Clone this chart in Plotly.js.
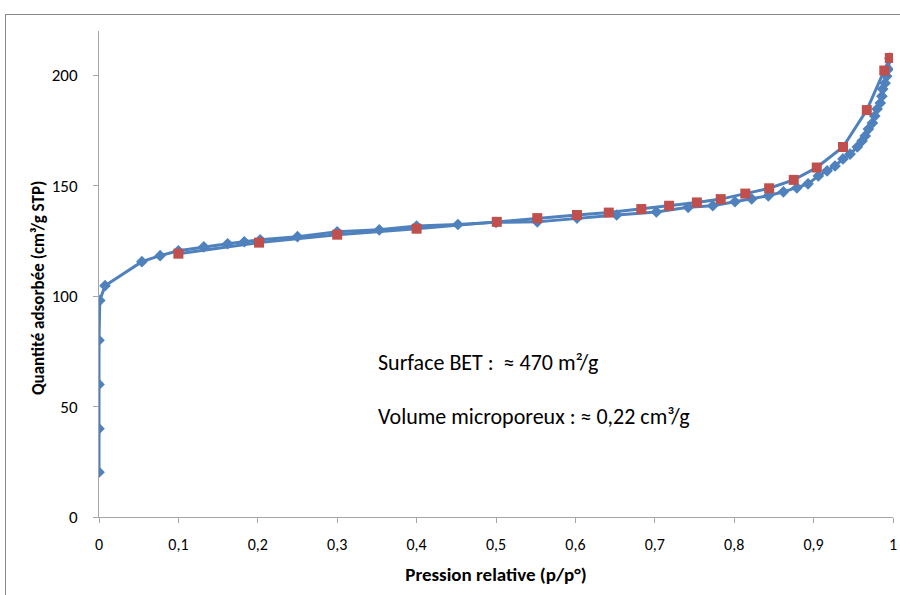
<!DOCTYPE html>
<html>
<head>
<meta charset="utf-8">
<script src="https://cdn.plot.ly/plotly-3.0.1.min.js"></script>
<style>
  html, body { margin: 0; padding: 0; background: #fff; }
  #wrap { position: relative; width: 900px; height: 595px; overflow: hidden; }
  #chart { width: 900px; height: 595px; }
  #frame { position: absolute; left: 5px; top: 14px; width: 1000px; height: 1000px;
           border-top: 1px solid #8a8a8a; border-left: 1px solid #8a8a8a; pointer-events: none; }
</style>
</head>
<body>
<div id="wrap">
  <div id="chart"></div>
  <div id="frame"></div>
</div>
<script>
// Adsorption branch (blue diamonds)
const adsP = [0, 0, 0, 0, 0.001, 0.0076, 0.054, 0.077, 0.10, 0.132, 0.162, 0.183, 0.203, 0.25, 0.30, 0.353, 0.40, 0.452, 0.50, 0.552, 0.602, 0.652, 0.702, 0.742, 0.773, 0.801, 0.822, 0.843, 0.862, 0.879, 0.893, 0.906, 0.917, 0.927, 0.937, 0.946, 0.955, 0.961, 0.965, 0.969, 0.974, 0.977, 0.980, 0.984, 0.986, 0.987, 0.990, 0.992, 0.994, 0.996];
const adsV = [20.3, 40, 60, 80, 98, 104.7, 115.6, 118.3, 120.5, 122.3, 123.7, 124.6, 125.5, 126.9, 129.1, 130.0, 131.7, 132.4, 133.4, 133.6, 135.3, 136.7, 138.1, 140.2, 140.9, 142.7, 144.0, 145.4, 147.2, 149.0, 150.8, 154.4, 156.7, 158.9, 162.1, 164.3, 167.5, 170.2, 172.5, 175.6, 178.3, 181.5, 184.7, 187.4, 190.5, 193.7, 196.4, 199.5, 202.7, 207.7];
// Desorption branch (red squares)
const desP = [0.996, 0.989, 0.967, 0.937, 0.904, 0.875, 0.844, 0.814, 0.783, 0.753, 0.718, 0.683, 0.642, 0.602, 0.552, 0.501, 0.40, 0.30, 0.2015, 0.10];
const desV = [207.8, 202.1, 184.2, 167.5, 158.2, 152.6, 148.8, 146.4, 143.9, 142.4, 140.9, 139.4, 137.8, 136.7, 135.3, 133.6, 130.5, 127.8, 124.2, 119.2];

const xTitle = "Pression relative (p/p°)";
const yTitle = "Quantité adsorbée (cm³/g STP)";
const note1 = "Surface BET :  ≈ 470 m²/g";
const note2 = "Volume microporeux : ≈ 0,22 cm³/g";

const FONT = "Carlito, 'Liberation Sans Narrow', Lato, 'Open Sans', sans-serif";
const BLUE = "#4F81BD";
const RED = "#C0504D";

const traces = [
  {
    x: adsP, y: adsV, type: "scatter", mode: "lines+markers", name: "Adsorption",
    line: { color: BLUE, width: 3 },
    marker: { symbol: "diamond", size: 9, color: BLUE }
  },
  {
    x: desP, y: desV, type: "scatter", mode: "lines+markers", name: "Désorption",
    line: { color: BLUE, width: 3 },
    marker: { symbol: "square", size: 10, color: RED }
  }
];

const layout = {
  width: 900, height: 595,
  margin: { l: 99, r: 7, t: 31, b: 78 },
  paper_bgcolor: "#ffffff", plot_bgcolor: "#ffffff",
  separators: ", ",
  showlegend: false,
  font: { family: FONT, size: 16, color: "#000" },
  xaxis: {
    range: [0, 1], dtick: 0.1, tick0: 0,
    showgrid: false, zeroline: false,
    showline: true, linecolor: "#a6a6a6", linewidth: 1,
    ticks: "outside", ticklen: 5, tickcolor: "#a6a6a6",
    ticklabelstandoff: 8,
    tickfont: { family: FONT, size: 16 },
    title: { text: xTitle, font: { family: FONT, size: 19, weight: "bold" }, standoff: 14 }
  },
  yaxis: {
    range: [0, 220], dtick: 50, tick0: 0,
    showgrid: false, zeroline: false,
    showline: true, linecolor: "#a6a6a6", linewidth: 1,
    ticks: "outside", ticklen: 5, tickcolor: "#a6a6a6",
    ticklabelstandoff: 12,
    tickfont: { family: FONT, size: 17 }
  },
  annotations: [
    { x: -0.0768, y: 0.471, xref: "paper", yref: "paper", text: "<b>" + yTitle + "</b>",
      textangle: -90, showarrow: false, xanchor: "center", yanchor: "middle",
      font: { family: FONT, size: 17 } },
    { x: 0.349, y: 70, xref: "x", yref: "y", text: note1, showarrow: false,
      xanchor: "left", yanchor: "middle", font: { family: FONT, size: 22 } },
    { x: 0.349, y: 45.6, xref: "x", yref: "y", text: note2, showarrow: false,
      xanchor: "left", yanchor: "middle", font: { family: FONT, size: 22 } }
  ]
};

Plotly.newPlot("chart", traces, layout, { displayModeBar: false, staticPlot: true });
</script>
</body>
</html>
